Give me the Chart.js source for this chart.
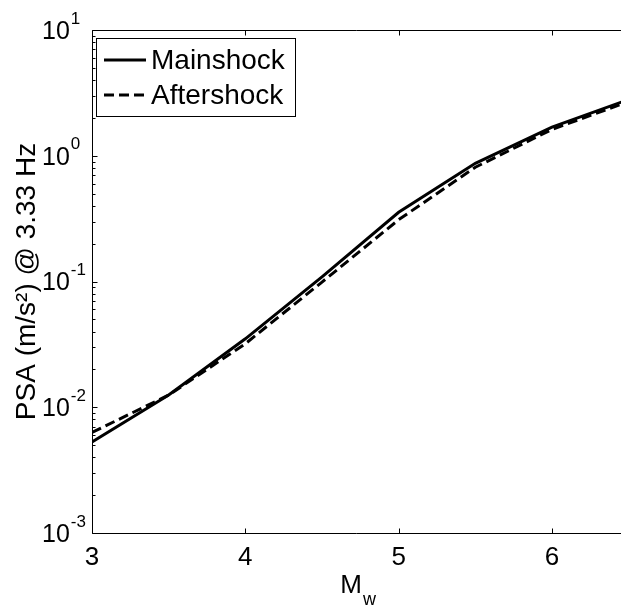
<!DOCTYPE html>
<html>
<head>
<meta charset="utf-8">
<script src="https://cdn.jsdelivr.net/npm/chart.js@4.4.0/dist/chart.umd.min.js"></script>
<style>
  html, body { margin: 0; padding: 0; background: #fff; overflow: hidden; }
  canvas { display: block; }
</style>
</head>
<body>
<canvas id="chart" width="621" height="608"></canvas>
<script>
// dados
const magnitudes = [3, 3.5, 4, 4.5, 5, 5.5, 6, 6.5];
const mainshock = [0.0053, 0.0125, 0.035, 0.109, 0.355, 0.87, 1.69, 2.8];
const aftershock = [0.0063, 0.0125, 0.032, 0.099, 0.31, 0.81, 1.62, 2.7];
const xTicks = [3, 4, 5, 6];
const yExponents = [-3, -2, -1, 0, 1];
const seriesNames = ['Mainshock', 'Aftershock'];

const FONT = 'Arial, "Liberation Sans", sans-serif';

function toPoints(xs, ys) {
    return xs.map((x, i) => ({ x: x, y: ys[i] }));
}

// moldura, ticks internos, rótulos com expoente e legenda (estilo matlab)
// o eixo direito fica fora da janela, por isso não é desenhado
const matlabAxes = {
    id: 'matlabAxes',
    afterDraw(chart) {
        const ctx = chart.ctx;
        const area = chart.chartArea;
        const xs = chart.scales.x;
        const ys = chart.scales.y;
        const left = Math.round(area.left) + 0.5;
        const top = Math.round(area.top) + 0.5;
        const bottom = Math.round(area.bottom) + 0.5;
        ctx.save();
        ctx.strokeStyle = '#000';
        ctx.fillStyle = '#000';
        ctx.lineWidth = 1;

        // moldura (esquerda, topo, base)
        ctx.beginPath();
        ctx.moveTo(chart.width, top);
        ctx.lineTo(left, top);
        ctx.lineTo(left, bottom);
        ctx.lineTo(chart.width, bottom);
        ctx.stroke();

        // ticks do eixo x (embaixo e em cima)
        xTicks.forEach(v => {
            const px = Math.round(xs.getPixelForValue(v)) + 0.5;
            ctx.beginPath();
            ctx.moveTo(px, bottom);
            ctx.lineTo(px, bottom - 5);
            ctx.moveTo(px, top);
            ctx.lineTo(px, top + 5);
            ctx.stroke();
        });

        // ticks do eixo y (maiores e menores) + rótulos 10^e
        yExponents.forEach((e, i) => {
            const base = Math.pow(10, e);
            const py = Math.round(ys.getPixelForValue(base)) + 0.5;
            ctx.beginPath();
            ctx.moveTo(left, py);
            ctx.lineTo(left + 5, py);
            ctx.stroke();
            if (i < yExponents.length - 1) {
                for (let k = 2; k <= 9; k++) {
                    const my = Math.round(ys.getPixelForValue(k * base)) + 0.5;
                    ctx.beginPath();
                    ctx.moveTo(left, my);
                    ctx.lineTo(left + 3, my);
                    ctx.stroke();
                }
            }
            const py2 = ys.getPixelForValue(base);
            ctx.textBaseline = 'middle';
            ctx.textAlign = 'left';
            ctx.font = '25px ' + FONT;
            ctx.fillText('10', 42, py2 + 2);
            const w = ctx.measureText('10').width;
            ctx.font = '17px ' + FONT;
            ctx.fillText(String(e), 42 + w + 1, py2 - 11);
        });

        // título do eixo x: M com subscrito w
        const midX = xs.getPixelForValue(4.75);
        ctx.textBaseline = 'alphabetic';
        ctx.font = '26px ' + FONT;
        const mW = ctx.measureText('M').width;
        ctx.fillText('M', midX - 20, 593);
        ctx.font = '18px ' + FONT;
        ctx.fillText('w', midX - 20 + mW + 1, 605);

        // legenda
        const lx = 96, ly = 38, lw = 199, lh = 78;
        ctx.fillStyle = '#fff';
        ctx.fillRect(lx, ly, lw, lh);
        ctx.strokeStyle = '#000';
        ctx.lineWidth = 1;
        ctx.strokeRect(lx + 0.5, ly + 0.5, lw, lh);
        chart.data.datasets.forEach((ds, i) => {
            const rowY = ly + 22 + i * 35;
            ctx.beginPath();
            ctx.lineWidth = ds.borderWidth;
            ctx.setLineDash(ds.borderDash || []);
            ctx.moveTo(104, rowY);
            ctx.lineTo(146, rowY);
            ctx.stroke();
            ctx.setLineDash([]);
            ctx.fillStyle = '#000';
            ctx.font = '28px ' + FONT;
            ctx.textBaseline = 'middle';
            ctx.fillText(ds.label, 151, rowY + 1);
        });
        ctx.restore();
    }
};

const ctx = document.getElementById('chart').getContext('2d');
const chart = new Chart(ctx, {
    type: 'line',
    data: {
        datasets: [
            {
                label: seriesNames[0],
                data: toPoints(magnitudes, mainshock),
                borderColor: '#000',
                borderWidth: 3,
                pointRadius: 0,
                tension: 0
            },
            {
                label: seriesNames[1],
                data: toPoints(magnitudes, aftershock),
                borderColor: '#000',
                borderWidth: 3,
                borderDash: [10, 5],
                pointRadius: 0,
                tension: 0
            }
        ]
    },
    options: {
        responsive: false,
        animation: false,
        layout: { padding: { top: 30, left: 0, right: 0, bottom: 0 } },
        scales: {
            x: {
                type: 'linear',
                min: 3,
                max: 6.45, // a janela corta o eixo pouco antes de 6.5
                afterBuildTicks: s => { s.ticks = xTicks.map(v => ({ value: v })); },
                afterFit: s => { s.height = 75; },
                grid: { display: false, drawTicks: false },
                border: { display: false },
                ticks: { color: '#000', padding: 9, font: { size: 26, family: FONT } }
            },
            y: {
                type: 'logarithmic',
                min: 1e-3,
                max: 1e1,
                afterBuildTicks: s => { s.ticks = yExponents.map(e => ({ value: Math.pow(10, e) })); },
                afterFit: s => { s.width = 92; },
                grid: { display: false, drawTicks: false },
                border: { display: false },
                ticks: { display: false },
                title: {
                    display: true,
                    text: 'PSA (m/s²) @ 3.33 Hz',
                    color: '#000',
                    font: { size: 28, family: FONT },
                    padding: { top: 10, bottom: 0 }
                }
            }
        },
        plugins: {
            legend: { display: false },
            tooltip: { enabled: false }
        }
    },
    plugins: [matlabAxes]
});
</script>
</body>
</html>
